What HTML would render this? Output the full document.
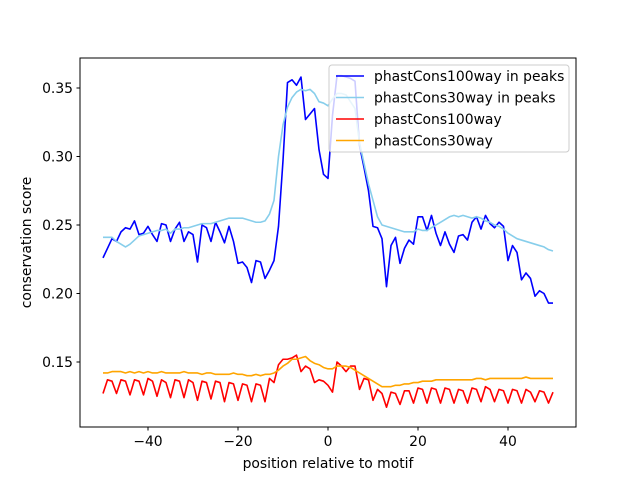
<!DOCTYPE html>
<html><head><meta charset="utf-8"><style>
body{margin:0;background:#fff;width:640px;height:480px;overflow:hidden}
svg{font-family:"DejaVu Sans","Liberation Sans",sans-serif}
</style></head><body>
<svg id="chart" width="640" height="480" viewBox="0 0 640 480" xmlns="http://www.w3.org/2000/svg">
<rect width="640" height="480" fill="#fff"/>
<g id="series"></g>
<rect x="80" y="58" width="496" height="369" fill="none" stroke="#000" stroke-width="1"/>
<g id="xticks"></g>
<g id="yticks"></g>
<text x="328" y="468" font-size="13.9" text-anchor="middle">position relative to motif</text>
<text transform="translate(31,242.5) rotate(-90)" font-size="13.9" text-anchor="middle">conservation score</text>
<g id="legend">
<rect x="329" y="65" width="240" height="87" rx="3" fill="#fff" fill-opacity="0.8" stroke="#ccc"/>
</g>
</svg>
<script>
const xs = []; for (let i = -50; i <= 50; i++) xs.push(i);
const seriesNames = ["phastCons100way in peaks","phastCons30way in peaks","phastCons100way","phastCons30way"];
const peaks100 = [.226,.233,.240,.238,.245,.248,.247,.253,.243,.244,
.249,.243,.238,.251,.250,.238,.247,.252,.238,.245,
.243,.223,.250,.248,.238,.252,.245,.237,.249,.238,
.222,.223,.219,.208,.224,.223,.211,.217,.224,.249,
.297,.354,.356,.352,.358,.327,.331,.335,.305,.287,
.284,.330,.359,.359,.358,.357,.355,.308,.292,.275,
.249,.248,.240,.205,.235,.241,.222,.233,.239,.236,
.256,.256,.246,.257,.244,.235,.245,.236,.230,.242,
.243,.239,.252,.256,.247,.257,.251,.248,.252,.249,
.224,.235,.230,.210,.215,.211,.198,.202,.200,.193,.193];
const peaks30 = [.241,.241,.241,.238,.236,.234,.236,.239,.242,.243,
.244,.245,.246,.246,.247,.244,.247,.247,.248,.248,
.249,.250,.251,.251,.251,.252,.253,.254,.255,.255,
.255,.255,.254,.253,.252,.252,.253,.258,.268,.300,
.323,.336,.343,.347,.349,.348,.349,.346,.340,.339,
.337,.342,.346,.346,.345,.340,.335,.310,.295,.280,
.268,.256,.250,.249,.248,.247,.246,.245,.245,.245,
.247,.246,.246,.248,.250,.252,.254,.256,.257,.256,
.257,.256,.255,.256,.255,.253,.252,.250,.249,.247,
.244,.242,.240,.239,.238,.237,.236,.235,.234,.232,.231];
const all100 = [.127,.137,.136,.127,.137,.136,.126,.137,.136,.126,
.138,.136,.125,.137,.135,.124,.137,.136,.124,.137,
.135,.122,.136,.135,.123,.136,.135,.121,.135,.134,
.122,.134,.133,.121,.134,.133,.121,.138,.135,.148,
.152,.152,.153,.155,.143,.147,.145,.135,.137,.136,
.133,.128,.150,.147,.143,.147,.147,.130,.138,.137,
.122,.130,.127,.117,.128,.127,.119,.129,.129,.120,
.131,.130,.120,.131,.130,.120,.131,.130,.120,.130,
.129,.120,.131,.130,.121,.132,.130,.121,.130,.129,
.120,.130,.129,.120,.130,.128,.121,.129,.128,.120,.128];
const all30 = [.142,.142,.143,.143,.143,.142,.143,.142,.143,.142,
.143,.142,.142,.143,.142,.142,.142,.142,.143,.142,
.142,.142,.141,.142,.142,.141,.141,.141,.141,.142,
.141,.141,.140,.140,.141,.140,.141,.141,.142,.144,
.147,.149,.152,.152,.153,.154,.151,.149,.148,.146,
.145,.145,.147,.147,.147,.146,.144,.142,.140,.138,
.136,.134,.132,.132,.132,.133,.133,.134,.134,.135,
.135,.136,.136,.136,.137,.137,.137,.137,.137,.137,
.137,.137,.137,.138,.138,.137,.138,.138,.138,.138,
.138,.138,.138,.138,.139,.138,.138,.138,.138,.138,.138];
const xTicks = [-40,-20,0,20,40];
const yTicks = [0.15,0.20,0.25,0.30,0.35];
const yTickLabels = ["0.15","0.20","0.25","0.30","0.35"];
const colors = ["#0000ff","#87ceeb","#ff0000","#ffa500"];

const NS = "http://www.w3.org/2000/svg";
function xScale(v){ return 328 + v*4.5; }
function yScale(v){ return 362 - (v-0.15)*1370; }
function mk(tag, attrs, parent){ const e=document.createElementNS(NS,tag); for(const k in attrs) e.setAttribute(k,attrs[k]); parent.appendChild(e); return e; }

const seriesG = document.getElementById("series");
const data = [peaks100, peaks30, all100, all30];
[0,1,2,3].forEach(si=>{
  const d = data[si].map((v,i)=>(i?"L":"M")+xScale(xs[i]).toFixed(2)+","+yScale(v).toFixed(2)).join("");
  const p = mk("path",{d:d,fill:"none",stroke:colors[si],"stroke-width":1.6,"stroke-linejoin":"round"},seriesG);
  
  
});

const xg = document.getElementById("xticks");
xTicks.forEach(t=>{
  const x = xScale(t);
  const l = mk("line",{x1:x,x2:x,y1:427,y2:430.5,stroke:"#000"},xg);
  
  
  const tx = mk("text",{x:x,y:446,"font-size":13.9,"text-anchor":"middle"},xg);
  tx.textContent = (t<0?"\u2212"+(-t):String(t));
  
  
});
const yg = document.getElementById("yticks");
yTicks.forEach((t,i)=>{
  const y = yScale(t);
  const l = mk("line",{x1:76.5,x2:80,y1:y,y2:y,stroke:"#000"},yg);
  
  
  const tx = mk("text",{x:73,y:y+5,"font-size":13.9,"text-anchor":"end"},yg);
  tx.textContent = yTickLabels[i];
  
  
});
const lg = document.getElementById("legend");
seriesNames.forEach((n,i)=>{
  const y = 76 + i*21.5;
  const l = mk("line",{x1:336,x2:364,y1:y,y2:y,stroke:colors[i],"stroke-width":1.6},lg);
  
  
  const t = mk("text",{x:374,y:y+5,"font-size":13.9},lg);
  t.textContent = n;
  
  
});
</script>
</body></html>
